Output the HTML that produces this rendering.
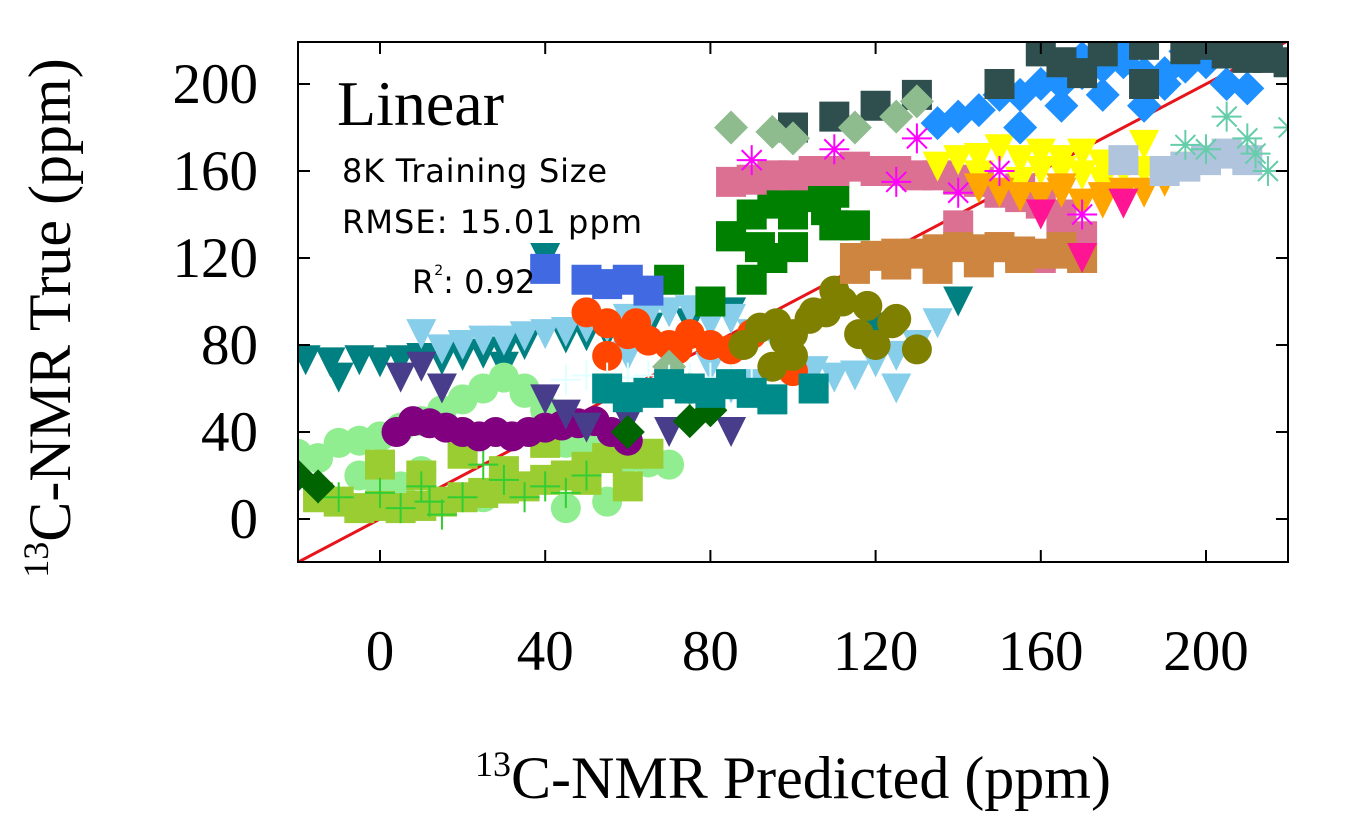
<!DOCTYPE html>
<html><head><meta charset="utf-8"><style>
html,body{margin:0;padding:0;background:#fff;}
svg{display:block;}
.tk{font-family:"Liberation Serif",serif;font-size:57px;fill:#000;}
.ann{font-family:"DejaVu Sans","Liberation Sans",sans-serif;font-size:32px;fill:#000;}
</style></head><body>
<svg id="chart" width="1352" height="821" viewBox="0 0 1352 821" xmlns="http://www.w3.org/2000/svg">
<defs><clipPath id="clip"><rect x="298" y="42" width="990" height="520"/></clipPath></defs>
<g id="marks" clip-path="url(#clip)"></g>
<g id="axes"></g>
<text x="337" y="125" style="font-family:'Liberation Serif',serif;font-size:64px">Linear</text>
<text x="342" y="182" class="ann" textLength="265">8K Training Size</text>
<text x="342" y="233" class="ann" textLength="300">RMSE: 15.01 ppm</text>
<text x="412" y="293" class="ann">R<tspan font-size="14" dy="-18">2</tspan><tspan dy="18">: 0.92</tspan></text>
<text transform="translate(70,318) rotate(-90)" text-anchor="middle" style="font-family:'Liberation Serif',serif;font-size:60px"><tspan font-size="36" dy="-22">13</tspan><tspan dy="22">C-NMR True (ppm)</tspan></text>
<text x="793" y="798" text-anchor="middle" style="font-family:'Liberation Serif',serif;font-size:60px"><tspan font-size="36" dy="-22">13</tspan><tspan dy="22">C-NMR Predicted (ppm)</tspan></text>
</svg>
<script>
const xTicks=[0,40,80,120,160,200];
const yTicks=[0,40,80,120,160,200];
const seriesNames=["teal-tri","skyblue-tri","lightgreen-circ","yellowgreen-sq","limegreen-plus","purple-circ","orangered-circ","olive-circ","green-sq","royalblue-sq","pink-sq","peru-sq","yellow-tri","orange-tri","dodgerblue-dia","darkslate-sq","steelblue-sq","aquamarine-star","seagreen-dia","magenta-star","deeppink-tri","slateblue-tri","darkgreen-dia","cyan-plus","darkcyan-sq"];
const seriesColors=["#008080","#87CEEB","#90EE90","#9ACD32","#32CD32","#800080","#FF4500","#808000","#008000","#4169E1","#DB7093","#CD853F","#FFFF00","#FFA500","#1E90FF","#2F4F4F","#B0C4DE","#66CDAA","#8FBC8F","#FF00FF","#FF1493","#483D8B","#006400","#E0FFFF","#008B8B"];
const seriesShapes=["tri","tri","circ","sq","plus","circ","circ","circ","sq","sq","sq","sq","tri","tri","dia","sq","sq","star","dia","star","tri","tri","dia","plus","sq"];
const predVals=[
[-18,-12,-5,0,5,10,15,20,25,30,35,45,55,65,75,85,-10,40,100,120,140,30,50,60,80],
[15,20,25,30,35,40,45,50,55,60,65,70,75,80,85,90,95,100,105,110,115,120,125,130,135,10,60,85,95,125,70,80,90],
[-20,-15,-10,-5,0,5,10,15,20,25,30,35,40,45,50,55,60,65,70,-5,5,25,45,55,35,10,20,0],
[-15,-10,-5,0,5,10,15,20,25,30,35,40,45,50,55,60,65,0,20,40,60,10,30,50],
[-20,-10,0,10,20,30,40,50,5,15,25,35,45,-15,12],
[8,12,16,20,24,28,32,36,40,44,48,52,56,60,4],
[50,55,60,65,70,75,80,85,100,55,62,72,90],
[88,92,96,100,104,108,112,116,120,124,100,95,105,110,125,130,98,118],
[85,90,95,100,105,110,100,110,115,95,90,80,70,85,100,105,92,108],
[40,50,55,60,65],
[85,90,95,100,105,110,115,120,125,130,135,140,145,150,155,160,165,150,160,170,140,155,165],
[115,120,125,130,135,140,145,150,155,160,165,170,115,145,135,165,125,155],
[135,140,145,150,155,160,165,170,175,180,185,190,195,155,175,165,185,145,160,170],
[145,150,155,160,165,170,175,180,185,190,165,175],
[135,140,145,150,155,160,165,170,175,180,185,190,195,200,175,185,165,155,205,195,210,170,180,190],
[100,110,120,130,150,165,175,185,195,205,210,220,185,160,170,200,215],
[180,190,200,210,195,205],
[195,200,210,220,215,205,212],
[85,95,100,115,125,70,75,130],
[90,130,150,170,125,140,110],
[170,180,160],
[5,10,15,40,60,70,85,45,50],
[-20,60,75,80,-15],
[45,50,55,60,65,70,75,80,85,90],
[55,65,75,85,95,105,60,70,80,90]];
const trueVals=[
[73,72,73,72,73,74,73,75,76,77,80,83,85,88,90,95,65,120,80,88,100,70,84,82,92],
[78,80,82,82,84,85,86,88,88,92,93,95,96,90,92,85,85,70,68,65,66,72,75,80,90,85,75,60,55,60,78,70,62],
[30,28,35,36,38,42,45,50,55,60,65,58,50,35,33,30,28,26,25,20,15,10,5,8,60,22,40,12],
[10,8,5,6,5,6,8,10,12,14,15,18,20,24,28,30,30,25,30,35,15,20,22,18],
[15,10,12,15,10,18,15,20,5,2,25,10,12,14,8],
[45,44,42,40,38,40,38,40,42,43,44,45,40,36,40],
[95,90,85,82,80,85,80,78,68,75,90,78,85],
[80,88,90,85,92,95,100,85,80,90,75,70,95,105,92,78,82,98],
[130,140,145,150,155,150,125,135,135,120,110,100,110,130,140,148,125,142],
[115,110,108,110,105],
[155,156,158,158,160,160,162,160,160,158,158,156,155,150,148,145,140,125,120,130,135,152,130],
[120,121,122,122,124,125,124,125,123,122,122,120,115,118,115,125,117,120],
[162,165,166,170,165,168,165,168,163,160,160,160,162,155,155,160,172,158,160,158],
[152,150,148,148,150,145,148,150,150,155,152,145],
[182,185,188,195,195,200,200,205,208,210,205,205,208,210,195,190,190,180,200,215,198,212,214,200],
[180,185,190,195,200,210,215,218,216,214,212,210,200,215,205,218,212],
[165,160,165,165,162,168],
[172,170,175,180,160,185,168],
[180,178,175,180,185,70,60,192],
[165,175,160,140,155,150,170],
[120,145,140],
[65,70,60,55,45,40,40,48,42],
[20,40,45,50,15],
[64,66,65,65,66,64,65,65,64,62],
[60,58,60,62,55,60,56,62,58,58]];
const X0=380,XS=(1206-380)/200,Y0=519,YS=(519-84)/200;
const xs=v=>X0+v*XS, ys=v=>Y0-v*YS;
const NS="http://www.w3.org/2000/svg";
function mk(tag,attrs,parent){const e=document.createElementNS(NS,tag);for(const k in attrs)e.setAttribute(k,attrs[k]);parent.appendChild(e);return e;}
const marks=document.getElementById('marks');
const diag=mk('line',{x1:xs(-20),y1:ys(-20),x2:xs(220),y2:ys(220),stroke:'#e8141b','stroke-width':3},marks);


seriesNames.forEach((nm,si)=>{
  const g=mk('g',{},marks);
  
  
  const c=seriesColors[si],sh=seriesShapes[si],r=15;
  predVals[si].forEach((p,i)=>{
    const x=xs(p),y=ys(trueVals[si][i]);let e;
    if(sh==='circ')e=mk('circle',{cx:x,cy:y,r:r,fill:c},g);
    else if(sh==='sq')e=mk('rect',{x:x-r,y:y-r,width:2*r,height:2*r,fill:c},g);
    else if(sh==='tri')e=mk('polygon',{points:`${x-r},${y-r} ${x+r},${y-r} ${x},${y+r}`,fill:c},g);
    else if(sh==='dia')e=mk('polygon',{points:`${x},${y-r-2} ${x+r+2},${y} ${x},${y+r+2} ${x-r-2},${y}`,fill:c},g);
    else if(sh==='plus')e=mk('path',{d:`M${x-r} ${y}H${x+r}M${x} ${y-r}V${y+r}`,stroke:c,'stroke-width':2},g);
    else e=mk('path',{d:`M${x-r} ${y}H${x+r}M${x} ${y-r}V${y+r}M${x-10} ${y-10}L${x+10} ${y+10}M${x-10} ${y+10}L${x+10} ${y-10}`,stroke:c,'stroke-width':2},g);
    
    
  });
});
const axes=document.getElementById('axes');
const frame=mk('rect',{x:298,y:42,width:990,height:520,fill:'none',stroke:'#000','stroke-width':2},axes);


xTicks.forEach(t=>{
  const x=xs(t);
  mk('line',{x1:x,y1:562,x2:x,y2:550,stroke:'#000','stroke-width':2},axes);
  mk('line',{x1:x,y1:42,x2:x,y2:54,stroke:'#000','stroke-width':2},axes);
  const l=mk('text',{x:x,y:670,'text-anchor':'middle',class:'tk'},axes);l.textContent=t;
  
  
});
yTicks.forEach(t=>{
  const y=ys(t);
  mk('line',{x1:298,y1:y,x2:310,y2:y,stroke:'#000','stroke-width':2},axes);
  mk('line',{x1:1288,y1:y,x2:1276,y2:y,stroke:'#000','stroke-width':2},axes);
  const l=mk('text',{x:258,y:y+19,'text-anchor':'end',class:'tk'},axes);l.textContent=t;
  
  
});
</script>
</body></html>
